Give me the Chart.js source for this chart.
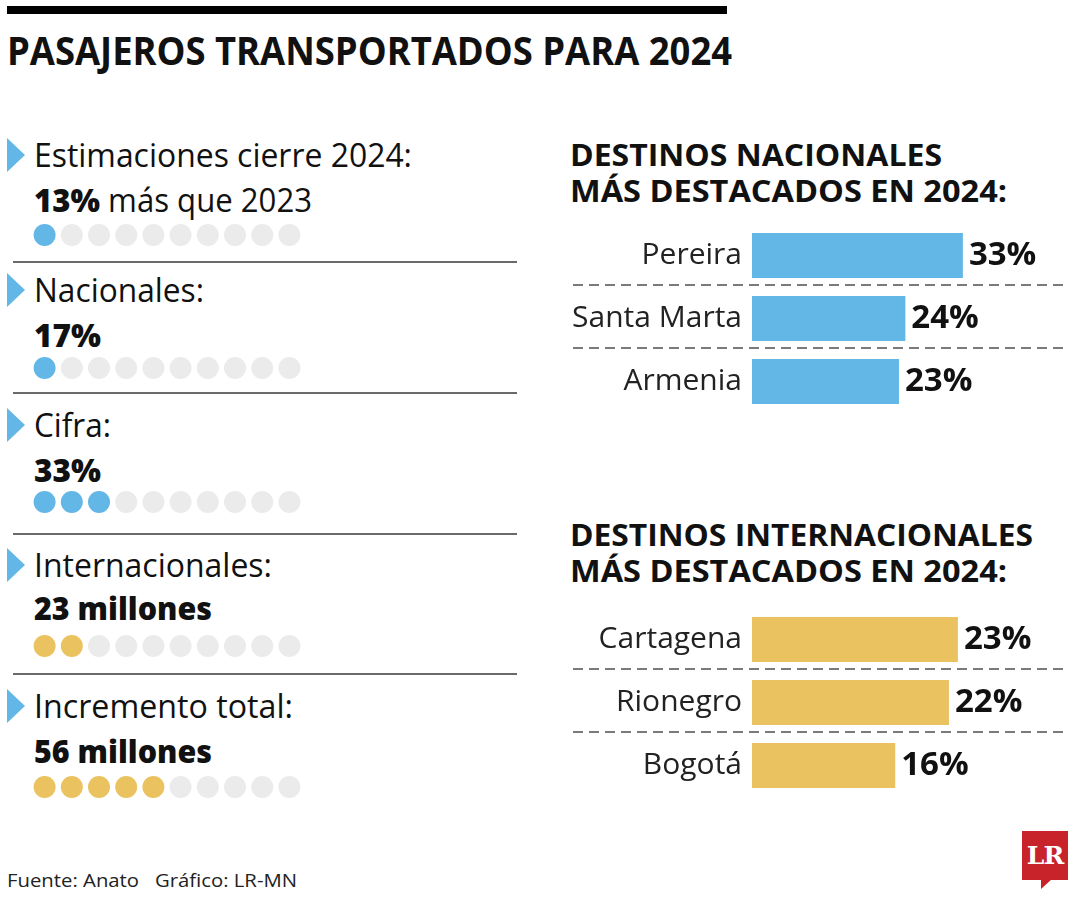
<!DOCTYPE html>
<html>
<head>
<meta charset="utf-8">
<script src="https://cdn.jsdelivr.net/npm/chart.js@4"></script>
<style>
  html, body { margin: 0; padding: 0; background: #ffffff; }
  body { width: 1080px; height: 900px; position: relative; overflow: hidden; font-family: "Open Sans", "Noto Sans", sans-serif; color: #111; }
  .abs { position: absolute; white-space: nowrap; transform-origin: 0 0; }
  .topbar { position: absolute; left: 7px; top: 6px; width: 720px; height: 8px; background: #000; }
  .tri { position: absolute; width: 0; height: 0; border-top: 17px solid transparent; border-bottom: 17px solid transparent; border-left: 18px solid #63b7e6; }
  .sep { position: absolute; left: 13px; width: 504px; height: 2px; background: #6a6a6a; }
  canvas.c { position: absolute; }
  .logo { position: absolute; left: 1022px; top: 831px; width: 46px; height: 49px; background: #c8222a; color: #fff; font-family: "DejaVu Serif", "Liberation Serif", serif; font-weight: bold; font-size: 25px; line-height: 49px; text-align: center; letter-spacing: -1px; }
  .logo-tip { position: absolute; left: 1041px; top: 879px; width: 0; height: 0; border-top: 10px solid #c8222a; border-right: 11px solid transparent; }
</style>
</head>
<body>
<div class="topbar"></div>
<div class="logo">LR</div>
<div class="logo-tip"></div>

<script>
// ---------------- DATA ----------------
const chartTitle = 'PASAJEROS TRANSPORTADOS PARA 2024';

const indicatorLabels = ['Estimaciones cierre 2024:', 'Nacionales:', 'Cifra:', 'Internacionales:', 'Incremento total:'];
const indicatorValues = ['13%', '17%', '33%', '23 millones', '56 millones'];
const indicatorSuffix = [' más que 2023', '', '', '', ''];
const indicatorDots = [1, 1, 3, 2, 5];
const indicatorGroup = ['nacional', 'nacional', 'nacional', 'internacional', 'internacional'];
const dotSlots = [0, 1, 2, 3, 4, 5, 6, 7, 8, 9];

const nacionalTitle = ['DESTINOS NACIONALES', 'MÁS DESTACADOS EN 2024:'];
const nacionalCities = ['Pereira', 'Santa Marta', 'Armenia'];
const nacionalValues = [33, 24, 23];

const internacionalTitle = ['DESTINOS INTERNACIONALES', 'MÁS DESTACADOS EN 2024:'];
const internacionalCities = ['Cartagena', 'Rionegro', 'Bogotá'];
const internacionalValues = [23, 22, 16];

const footerText = 'Fuente: Anato\u00a0\u00a0 Gráfico: LR-MN';

// ---------------- STYLE / LAYOUT ----------------
const COLORS = { nacional: '#63b7e6', internacional: '#eac25f', empty: '#ebebeb' };
const FONT = '"Open Sans", "Noto Sans", sans-serif';

const fits = [];
function addText(html, x, baseline, size, weight, targetWidth, color) {
  const el = document.createElement('div');
  el.className = 'abs';
  el.innerHTML = html;
  el.style.left = x + 'px';
  el.style.fontSize = size + 'px';
  el.style.lineHeight = size + 'px';
  el.style.fontWeight = weight;
  el.style.top = (baseline - 0.888 * size) + 'px';
  if (color) el.style.color = color;
  document.body.appendChild(el);
  if (targetWidth) fits.push([el, targetWidth]);
  return el;
}
function applyFits() {
  fits.forEach(([el, w]) => {
    el.style.transform = 'none';
    const nat = el.getBoundingClientRect().width;
    if (nat > 0) {
      let s = w / nat;
      s = Math.max(0.75, Math.min(1.2, s));
      el.style.transform = 'scaleX(' + s + ')';
    }
  });
}

// Title
addText(chartTitle, 7, 66, 40, 700, 725);

// Left indicators
const headBase = [167, 302, 437, 577, 718];
const valBase = [212, 347, 482, 620, 763];
const dotCenter = [235, 368, 502, 646, 787];
const sepY = [261, 392, 533, 673];
const headW = [378, 170, 77, 238, 259];
const valW = [278, 67, 67, 178, 178];
indicatorLabels.forEach((lab, i) => {
  const t = document.createElement('div');
  t.className = 'tri';
  t.style.left = '7px';
  t.style.top = (headBase[i] - 29) + 'px';
  document.body.appendChild(t);
  addText(lab, 34, headBase[i], 32, 400, headW[i]);
  const valHtml = '<b>' + indicatorValues[i] + '</b>' + (indicatorSuffix[i] ? '<span style="font-weight:400">' + indicatorSuffix[i] + '</span>' : '');
  addText(valHtml, 34, valBase[i], 32, 700, valW[i]);
  if (i < sepY.length) {
    const s = document.createElement('div');
    s.className = 'sep';
    s.style.top = sepY[i] + 'px';
    document.body.appendChild(s);
  }
});

// Right headings
addText(nacionalTitle[0], 570, 167, 31, 700, 372);
addText(nacionalTitle[1], 570, 203, 31, 700, 437);
addText(internacionalTitle[0], 570, 547, 31, 700, 463);
addText(internacionalTitle[1], 570, 583, 31, 700, 437);

// Footer
addText(footerText, 7, 888, 19, 400, 290, '#222');

applyFits();
if (document.fonts && document.fonts.ready) document.fonts.ready.then(applyFits);

// ---------------- CHARTS ----------------
function makeCanvas(left, top, w, h) {
  const c = document.createElement('canvas');
  c.className = 'c';
  c.width = w; c.height = h;
  c.style.left = left + 'px'; c.style.top = top + 'px';
  c.style.width = w + 'px'; c.style.height = h + 'px';
  document.body.appendChild(c);
  return c.getContext('2d');
}

// Dot rows (scatter)
indicatorDots.forEach((n, i) => {
  const ctx = makeCanvas(31, dotCenter[i] - 13, 272, 26);
  const filled = COLORS[indicatorGroup[i]];
  new Chart(ctx, {
    type: 'scatter',
    data: {
      datasets: [{
        data: dotSlots.map(k => ({ x: k, y: 0 })),
        pointRadius: 11,
        pointHoverRadius: 11,
        pointBorderWidth: 0,
        pointBackgroundColor: dotSlots.map(k => k < n ? filled : COLORS.empty),
        clip: false
      }]
    },
    options: {
      responsive: false, animation: false, events: [],
      layout: { padding: 0, autoPadding: false },
      plugins: { legend: { display: false }, tooltip: { enabled: false } },
      scales: {
        x: { display: false, min: -0.5, max: 9.5 },
        y: { display: false, min: -1, max: 1 }
      }
    }
  });
});

// Bar charts
const barExtras = {
  id: 'barExtras',
  afterDatasetsDraw(chart, args, opts) {
    const ctx = chart.ctx;
    const meta = chart.getDatasetMeta(0);
    const vals = chart.data.datasets[0].data;
    ctx.save();
    ctx.setLineDash([10, 6]);
    ctx.strokeStyle = '#7a7a7a';
    ctx.lineWidth = 2;
    for (let i = 0; i < meta.data.length - 1; i++) {
      const yy = Math.round((meta.data[i].y + meta.data[i + 1].y) / 2) - 2;
      ctx.beginPath();
      ctx.moveTo(opts.lineLeft, yy);
      ctx.lineTo(chart.chartArea.right, yy);
      ctx.stroke();
    }
    ctx.setLineDash([]);
    ctx.font = 'bold 33px ' + FONT;
    ctx.fillStyle = '#111';
    ctx.textBaseline = 'alphabetic';
    ctx.textAlign = 'left';
    meta.data.forEach((bar, i) => {
      ctx.fillText(vals[i] + '%', bar.x + 6, bar.y + 9);
    });
    ctx.restore();
  }
};

function barChart(top, cities, values, color, xMax) {
  const ctx = makeCanvas(562, top, 506, 189);
  new Chart(ctx, {
    type: 'bar',
    data: {
      labels: cities,
      datasets: [{ data: values, backgroundColor: color, borderWidth: 0, categoryPercentage: 1, barPercentage: 0.714 }]
    },
    options: {
      indexAxis: 'y',
      responsive: false, animation: false, events: [],
      layout: { padding: 0, autoPadding: false },
      plugins: { legend: { display: false }, tooltip: { enabled: false }, barExtras: { lineLeft: 11 } },
      scales: {
        x: { display: false, min: 0, max: xMax },
        y: {
          grid: { display: false, drawTicks: false },
          border: { display: false },
          ticks: { color: '#222', font: { family: FONT, size: 30, weight: 400 }, padding: 10 },
          afterFit(scale) {
            scale.width = 190;
            scale.paddingTop = 0;
            scale.paddingBottom = 0;
          }
        }
      }
    },
    plugins: [barExtras]
  });
}

barChart(224, nacionalCities, nacionalValues, COLORS.nacional, 49.45);
barChart(608, internacionalCities, internacionalValues, COLORS.internacional, 35.3);
</script>
</body>
</html>
